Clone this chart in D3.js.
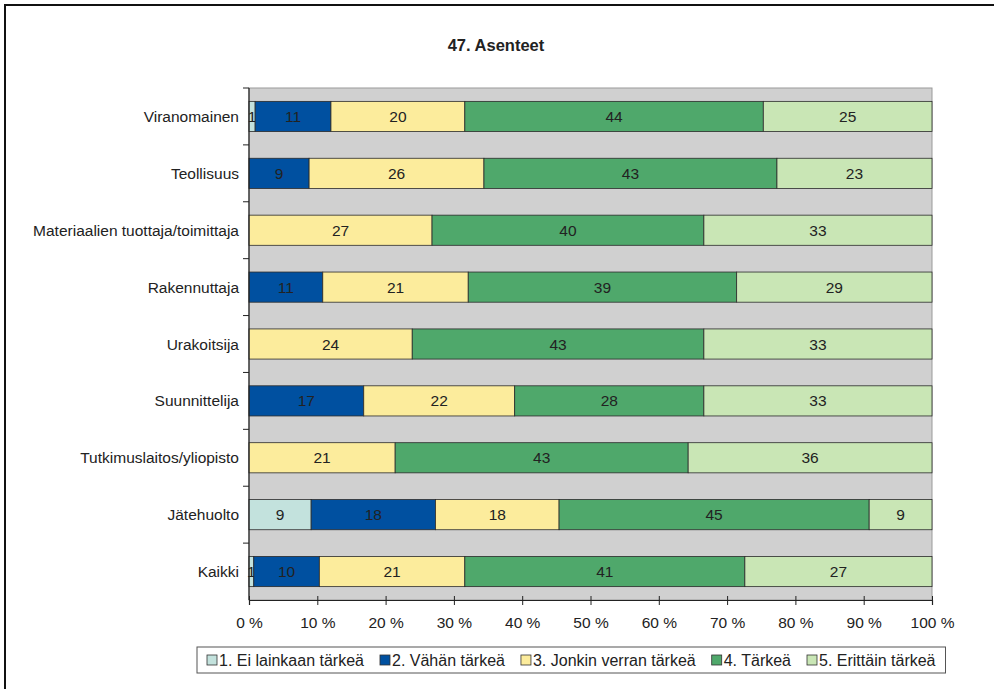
<!DOCTYPE html>
<html>
<head>
<meta charset="utf-8">
<script src="https://cdn.jsdelivr.net/npm/d3@7"></script>
<style>
  body { margin: 0; background: #fff; }
  text { font-family: "Liberation Sans", Arial, sans-serif; fill: #222; }
</style>
</head>
<body>
<div id="chart"></div>
<script>
// categories, top to bottom
var categories = ['Viranomainen', 'Teollisuus', 'Materiaalien tuottaja/toimittaja',
  'Rakennuttaja', 'Urakoitsija', 'Suunnittelija', 'Tutkimuslaitos/yliopisto',
  'Jätehuolto', 'Kaikki'];

// share of answers (%) for each response level, same order as categories
var eiLainkaan = [0.9, 0, 0, 0, 0, 0, 0, 9.1, 0.7];
var vahan = [11.1, 8.8, 0, 10.8, 0, 16.8, 0, 18.2, 9.6];
var jonkin = [19.6, 25.6, 26.8, 21.3, 23.9, 22.1, 21.4, 18.1, 21.3];
var tarkea = [43.7, 42.9, 39.8, 39.3, 42.7, 27.7, 42.9, 45.4, 41.0];
var erittain = [24.7, 22.7, 33.4, 28.6, 33.4, 33.4, 35.7, 9.2, 27.4];

var seriesNames = ['1. Ei lainkaan tärkeä', '2. Vähän tärkeä', '3. Jonkin verran tärkeä',
  '4. Tärkeä', '5. Erittäin tärkeä'];
var seriesColors = ['#c3e2dd', '#0050a0', '#fcec9c', '#4fa86b', '#c9e6b5'];
var xTicks = [0, 0.1, 0.2, 0.3, 0.4, 0.5, 0.6, 0.7, 0.8, 0.9, 1];

var chartTitle = '47. Asenteet';

var pic_width = 994,
    pic_height = 689,
    font_size = '15.5px';

var margin = { top: 88, left: 249, right: 62, bottom: 89 };
var width = pic_width - margin.left - margin.right,
    height = pic_height - margin.top - margin.bottom;

var seriesValues = [eiLainkaan, vahan, jonkin, tarkea, erittain];
var rows = categories.map(function(c, i) {
  var r = { cat: c };
  seriesNames.forEach(function(s, j) { r[s] = seriesValues[j][i]; });
  return r;
});

var stack = d3.stack().keys(seriesNames).offset(d3.stackOffsetExpand);
var layers = stack(rows);

var xScale = d3.scaleLinear().domain([0, 1]).range([0, width]);
var yScale = d3.scaleBand().domain(categories).range([0, height]).paddingInner(0.47).paddingOuter(0.235);
var yBands = d3.scaleBand().domain(categories).range([0, height]);

var svg = d3.select('#chart').append('svg')
  .attr('width', pic_width)
  .attr('height', pic_height);

// outer frame (only top and left visible in original)
svg.append('path')
  .attr('d', 'M5,' + pic_height + 'V5H' + pic_width)
  .attr('fill', 'none')
  .attr('stroke', '#111')
  .attr('stroke-width', 2);

svg.append('text')
  .attr('x', 496)
  .attr('y', 51)
  .attr('text-anchor', 'middle')
  .style('font-size', '16.5px')
  .style('font-weight', 'bold')
  .text(chartTitle);

var g = svg.append('g')
  .attr('transform', 'translate(' + margin.left + ',' + margin.top + ')');

// plot area
g.append('rect')
  .attr('width', width)
  .attr('height', height)
  .attr('fill', '#d0d0d0')
  .attr('stroke', '#9a9a9a')
  .attr('stroke-width', 1);

var layer = g.selectAll('.layer').data(layers)
  .enter().append('g')
  .attr('class', 'layer')
  .attr('fill', function(d, i) { return seriesColors[i]; });

layer.selectAll('rect').data(function(d) { return d; })
  .enter().append('rect')
  .attr('x', function(d) { return xScale(d[0]); })
  .attr('y', function(d) { return yScale(d.data.cat); })
  .attr('width', function(d) { return xScale(d[1]) - xScale(d[0]); })
  .attr('height', yScale.bandwidth())
  .attr('stroke', '#2a2a2a')
  .attr('stroke-width', 0.8)
  .style('display', function(d) { return d[1] - d[0] > 0 ? null : 'none'; });

// value labels
layer.each(function(L) {
  d3.select(this).selectAll('text').data(L.filter(function(d) { return d.data[L.key] >= 0.5; }))
    .enter().append('text')
    .attr('x', function(d) { return xScale((d[0] + d[1]) / 2); })
    .attr('y', function(d) { return yScale(d.data.cat) + yScale.bandwidth() / 2 + 5.5; })
    .attr('text-anchor', 'middle')
    .style('font-size', font_size)
    .style('fill', '#222')
    .text(function(d) { return d3.format('.0f')(d.data[L.key]); });
});

// y axis: tick marks at band edges
var yAxis = g.append('g').attr('class', 'y axis');
yAxis.append('line')
  .attr('x1', 0).attr('x2', 0).attr('y1', 0).attr('y2', height)
  .attr('stroke', '#222').attr('stroke-width', 1.2);
yAxis.selectAll('.tick').data(categories)
  .enter().append('line')
  .attr('x1', -6).attr('x2', 0)
  .attr('y1', function(d) { return yBands(d); })
  .attr('y2', function(d) { return yBands(d); })
  .attr('stroke', '#222');
yAxis.selectAll('.lab').data(categories)
  .enter().append('text')
  .attr('x', -10)
  .attr('y', function(d) { return yBands(d) + yBands.bandwidth() / 2 + 5.5; })
  .attr('text-anchor', 'end')
  .style('font-size', font_size)
  .text(function(d) { return d; });

// x axis
var xAxis = d3.axisBottom(xScale).tickValues(xTicks).tickSize(5)
  .tickFormat(function(d) { return Math.round(d * 100) + ' %'; });
var xg = g.append('g')
  .attr('transform', 'translate(0,' + height + ')')
  .call(xAxis);
xg.select('.domain').attr('stroke', '#222').attr('stroke-width', 1.2);
xg.selectAll('.tick line').attr('y1', -4).attr('stroke', '#222');
xg.selectAll('.tick text')
  .attr('y', 17)
  .style('font-size', font_size)
  .style('font-family', '"Liberation Sans", Arial, sans-serif')
  .attr('fill', '#222');

// legend
var legend = svg.append('g').attr('class', 'legend');
var lx = 0, gap = 16;
var items = legend.selectAll('.item').data(seriesNames)
  .enter().append('g').attr('class', 'item');
items.append('rect')
  .attr('width', 10).attr('height', 10)
  .attr('y', -11)
  .attr('fill', function(d, i) { return seriesColors[i]; })
  .attr('stroke', '#333').attr('stroke-width', 0.8);
items.append('text')
  .attr('x', 12)
  .style('font-size', '16px')
  .text(function(d) { return d; });
items.each(function() {
  var w = d3.select(this).select('text').node().getComputedTextLength();
  d3.select(this).attr('transform', 'translate(' + lx + ',0)');
  lx += 12 + w + gap;
});
lx -= gap;
var boxW = lx + 20, boxX = 197, legY = 666;
legend.insert('rect', ':first-child')
  .attr('x', -10).attr('y', -19)
  .attr('width', boxW).attr('height', 26)
  .attr('fill', '#fff')
  .attr('stroke', '#555').attr('stroke-width', 1);
legend.attr('transform', 'translate(' + (boxX + 10) + ',' + legY + ')');
</script>
</body>
</html>
